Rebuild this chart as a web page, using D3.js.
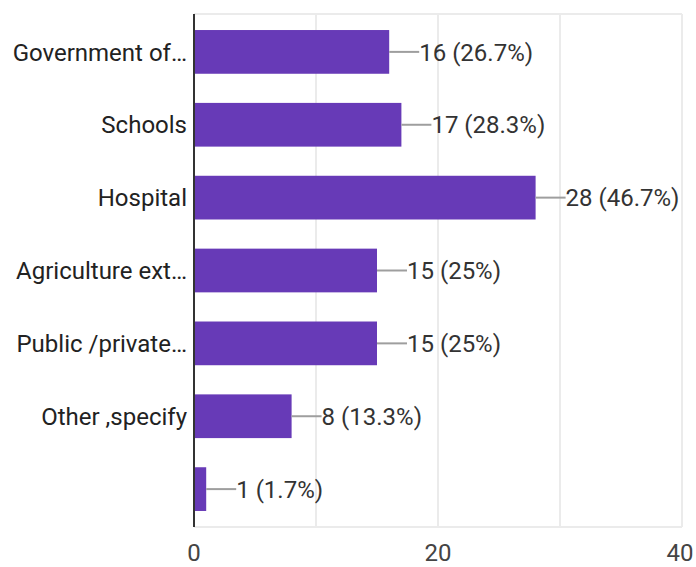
<!DOCTYPE html>
<html>
<head>
<meta charset="utf-8">
<script src="https://cdn.jsdelivr.net/npm/d3@7"></script>
<style>
  html, body { margin: 0; padding: 0; background: #fff; }
  svg { display: block; font-family: Roboto, "Noto Sans", sans-serif; }
</style>
</head>
<body>
<svg id="chart" width="696" height="567"></svg>
<script>
// Response counts per category
const categories = ["Government of…", "Schools", "Hospital", "Agriculture ext…", "Public /private…", "Other ,specify", ""];
const counts = [16, 17, 28, 15, 15, 8, 1];
const percents = ["26.7%", "28.3%", "46.7%", "25%", "25%", "13.3%", "1.7%"];
const gridValues = [0, 10, 20, 30, 40];
const tickLabels = [0, 20, 40];

const svg = d3.select("#chart");
const plotLeft = 194, plotRight = 682, plotTop = 14, plotBottom = 527;

const x = d3.scaleLinear().domain([0, 40]).range([plotLeft, plotRight]);
const y = d3.scaleBand()
  .domain(d3.range(categories.length))
  .range([plotTop, plotBottom])
  .paddingInner(0.4)
  .paddingOuter(0.22);

// Vertical grid lines
svg.append("g").selectAll("line")
  .data(gridValues.slice(1))
  .join("line")
  .attr("x1", d => x(d)).attr("x2", d => x(d))
  .attr("y1", plotTop).attr("y2", plotBottom)
  .attr("stroke", "#ebebeb").attr("stroke-width", 2);

// Top and bottom frame lines
svg.append("g").selectAll("line")
  .data([plotTop, plotBottom])
  .join("line")
  .attr("x1", plotLeft).attr("x2", plotRight)
  .attr("y1", d => d).attr("y2", d => d)
  .attr("stroke", "#ebebeb").attr("stroke-width", 2);

// Bars
svg.append("g").selectAll("rect")
  .data(counts)
  .join("rect")
  .attr("x", x(0))
  .attr("y", (d, i) => y(i))
  .attr("width", d => x(d) - x(0))
  .attr("height", y.bandwidth())
  .attr("fill", "#673ab7");

// Leader lines and value labels
const lead = 30;
const val = svg.append("g").selectAll("g")
  .data(counts)
  .join("g")
  .attr("transform", (d, i) => `translate(${x(d)},${y(i) + y.bandwidth() / 2})`);
val.append("line")
  .attr("x1", 0).attr("x2", lead)
  .attr("stroke", "#9e9e9e").attr("stroke-width", 2);
val.append("text")
  .attr("x", lead)
  .attr("dy", "0.36em")
  .attr("font-size", 24)
  .attr("fill", "#333")
  .text((d, i) => `${d} (${percents[i]})`);

// Category labels
svg.append("g").selectAll("text")
  .data(categories)
  .join("text")
  .attr("x", plotLeft - 7)
  .attr("y", (d, i) => y(i) + y.bandwidth() / 2)
  .attr("dy", "0.36em")
  .attr("text-anchor", "end")
  .attr("font-size", 24)
  .attr("fill", "#222")
  .text(d => d);

// Baseline axis
svg.append("line")
  .attr("x1", x(0)).attr("x2", x(0))
  .attr("y1", plotTop).attr("y2", plotBottom)
  .attr("stroke", "#333").attr("stroke-width", 2);

// X tick labels (the last one is pulled in slightly so it stays inside the frame)
svg.append("g").selectAll("text")
  .data(tickLabels)
  .join("text")
  .attr("x", (d, i) => x(d) + (i === tickLabels.length - 1 ? -2 : 0))
  .attr("y", 561)
  .attr("text-anchor", "middle")
  .attr("font-size", 24)
  .attr("fill", "#444")
  .text(d => d);
</script>
</body>
</html>
